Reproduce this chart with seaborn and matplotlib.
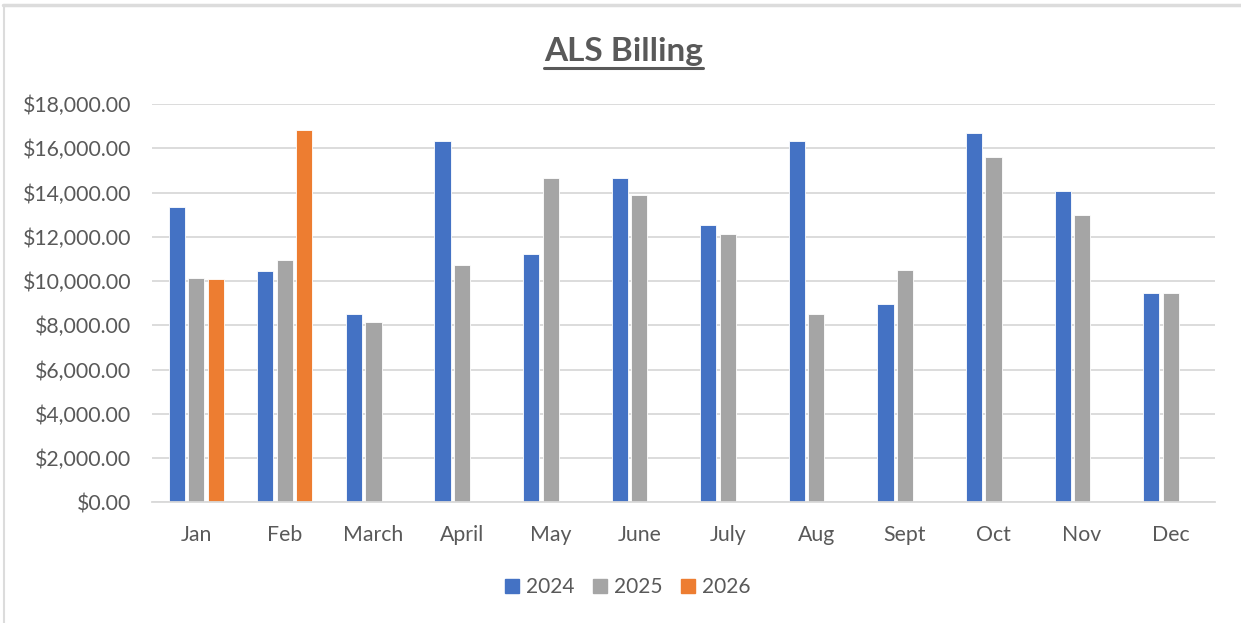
import matplotlib
matplotlib.use('Agg')
import matplotlib.pyplot as plt
import matplotlib.ticker as mticker
from matplotlib.lines import Line2D
import numpy as np
import pandas as pd
import seaborn as sns

# Data
months = ['Jan', 'Feb', 'March', 'April', 'May', 'June', 'July', 'Aug', 'Sept', 'Oct', 'Nov', 'Dec']
years = ['2024', '2025', '2026']
billing_2024 = [13340, 10460, 8530, 16340, 11220, 14640, 12510, 16310, 8970, 16690, 14080, 9470]
billing_2025 = [10130, 10960, 8140, 10730, 14650, 13880, 12130, 8490, 10520, 15590, 12990, 9470]
billing_2026 = [10090, 16810, np.nan, np.nan, np.nan, np.nan, np.nan, np.nan, np.nan, np.nan, np.nan, np.nan]

colors = ['#4472C4', '#A5A5A5', '#ED7D31']
text_color = '#595959'

df = pd.DataFrame({'month': months * 3,
                   'year': [y for y in years for _ in months],
                   'billing': billing_2024 + billing_2025 + billing_2026})

sns.set_style('white')
plt.rcParams['font.family'] = ['Lato', 'DejaVu Sans']

fig = plt.figure(figsize=(12.41, 6.23), dpi=100)
ax = fig.add_axes([152 / 1241, (623 - 502.3) / 623, (1215 - 152) / 1241, 398.3 / 623])

sns.barplot(data=df, x='month', y='billing', hue='year', order=months, hue_order=years,
            palette=colors, width=0.66, gap=0.17, saturation=1, edgecolor='white',
            linewidth=0.6, legend=False, ax=ax)

ax.set_ylim(0, 18000)
ax.set_xlim(-0.5, len(months) - 0.5)
ax.yaxis.set_major_locator(mticker.MultipleLocator(2000))
ax.yaxis.set_major_formatter(mticker.StrMethodFormatter('${x:,.2f}'))
ax.grid(axis='y', color='#D9D9D9', linewidth=1.3)
ax.set_axisbelow(True)
for side in ['top', 'right', 'left']:
    ax.spines[side].set_visible(False)
ax.spines['bottom'].set_color('#D9D9D9')
ax.spines['bottom'].set_linewidth(1.3)
ax.tick_params(axis='both', length=0, labelsize=15.3, labelcolor=text_color)
ax.tick_params(axis='y', pad=15)
ax.tick_params(axis='x', pad=16)
ax.set_xlabel('')
ax.set_ylabel('')

# Title with underline
title = fig.text(0.5024, 0.918, 'ALS Billing', ha='center', va='center',
                 fontsize=24, fontweight='bold', color=text_color)
fig.canvas.draw()
bb = title.get_window_extent().transformed(fig.transFigure.inverted())
fig.add_artist(Line2D([bb.x0, bb.x1], [bb.y0 - 0.004, bb.y0 - 0.004], transform=fig.transFigure,
                      color=text_color, linewidth=2.2))

# Legend at the bottom
handles = [plt.Rectangle((0, 0), 1, 1, color=c) for c in colors]
fig.legend(handles, years, loc='center', bbox_to_anchor=(0.506, 1 - 587 / 623), ncol=3,
           frameon=False, fontsize=15, labelcolor=text_color, handlelength=0.65,
           handleheight=0.65, handletextpad=0.35, columnspacing=0.9)

# Light frame of the chart area
fig.add_artist(Line2D([3 / 1241, 1], [1 - 4.5 / 623, 1 - 4.5 / 623], transform=fig.transFigure,
                      color='#DCDCDC', linewidth=2.5))
fig.add_artist(Line2D([3.5 / 1241, 3.5 / 1241], [0, 1 - 4.5 / 623], transform=fig.transFigure,
                      color='#DCDCDC', linewidth=1.5))

fig.savefig('out.png', dpi=100, facecolor='white')
